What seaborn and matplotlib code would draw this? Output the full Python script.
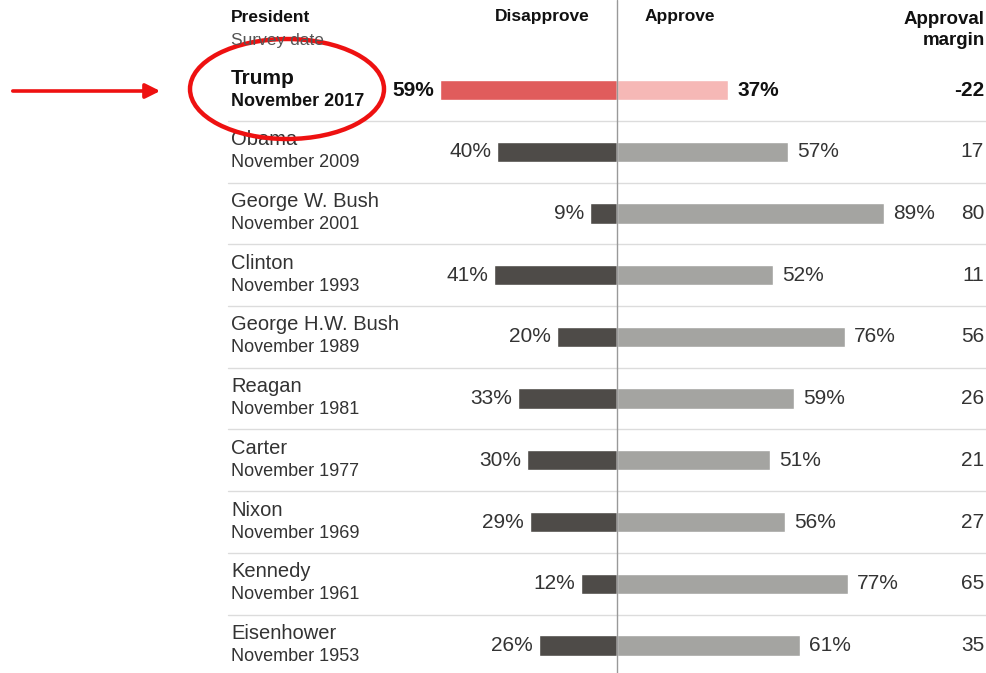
import matplotlib
matplotlib.use("Agg")
import matplotlib.pyplot as plt
from matplotlib.patches import Ellipse, FancyArrowPatch
import seaborn as sns

presidents = ["Trump", "Obama", "George W. Bush", "Clinton", "George H.W. Bush",
              "Reagan", "Carter", "Nixon", "Kennedy", "Eisenhower"]
survey_dates = ["November 2017", "November 2009", "November 2001", "November 1993",
                "November 1989", "November 1981", "November 1977", "November 1969",
                "November 1961", "November 1953"]
disapprove = [59, 40, 9, 41, 20, 33, 30, 29, 12, 26]
approve = [37, 57, 89, 52, 76, 59, 51, 56, 77, 61]
margin = [-22, 17, 80, 11, 56, 26, 21, 27, 65, 35]

sns.set_style("white")
plt.rcParams["font.family"] = ["Liberation Sans", "DejaVu Sans"]

W, H = 986, 673
fig = plt.figure(figsize=(W / 100, H / 100), dpi=100)
ax = fig.add_axes([0, 0, 1, 1])

# layout: zero line at pixel 617, 3 px per percent, rows ~61.7 px apart
X0, XS = 617, 3.0
Y0, YS = 90.1, 61.7
px = lambda x: (x - X0) / XS

dis_colors = ["#e05c5c"] + ["#4e4b48"] * 9
app_colors = ["#f6b8b6"] + ["#a4a4a1"] * 9

neg = [-v for v in disapprove]
sns.barplot(x=neg, y=presidents, hue=presidents, palette=dis_colors, orient="h",
            width=0.33, saturation=1, legend=False, ax=ax)
sns.barplot(x=approve, y=presidents, hue=presidents, palette=app_colors, orient="h",
            width=0.33, saturation=1, legend=False, ax=ax)

ax.set_xlim(px(0), px(W))
ax.set_ylim((H - Y0) / YS, -Y0 / YS)
ax.axis("off")

# separators and zero line
for i in range(len(presidents) - 1):
    ax.plot([px(228), px(W)], [i + 0.5, i + 0.5], color="#dcdcdc", lw=1, zorder=0)
ax.axvline(0, color="#999999", lw=1, zorder=3)

txt = "#333333"
for i, (p, d, dv, av, m) in enumerate(zip(presidents, survey_dates, disapprove, approve, margin)):
    bold = i == 0
    fw = "bold" if bold else "normal"
    col = "#111111" if bold else txt
    ax.text(px(231), i - 12 / YS, p, fontsize=15 if bold else 14.5, fontweight=fw,
            color=col, va="center", ha="left")
    ax.text(px(231), i + 11 / YS, d, fontsize=13 if bold else 13, fontweight=fw,
            color=col, va="center", ha="left")
    ax.text(-dv - 6 / XS, i, f"{dv}%", fontsize=15, fontweight=fw, color=col,
            va="center", ha="right")
    ax.text(av + 9 / XS, i, f"{av}%", fontsize=15, fontweight=fw, color=col,
            va="center", ha="left")
    ax.text(px(984), i, f"{m}", fontsize=15, fontweight=fw, color=col,
            va="center", ha="right")

# header
fy = lambda y: 1 - y / H
fig.text(231 / W, fy(17), "President", fontsize=12.5, fontweight="bold", color="#111111", va="center")
fig.text(231 / W, fy(40), "Survey date", fontsize=12.5, color="#555555", va="center")
fig.text(590 / W, fy(17), "Disapprove", fontsize=12.5, fontweight="bold", color="#111111",
         va="center", ha="right")
fig.text(645 / W, fy(17), "Approve", fontsize=12.5, fontweight="bold", color="#111111",
         va="center", ha="left")
fig.text(985 / W, fy(30), "Approval\nmargin", fontsize=13.5, fontweight="bold", color="#111111",
         va="center", ha="right", multialignment="right", linespacing=1.3)

# red highlight
ax.add_patch(Ellipse((px(287), (89 - Y0) / YS), 194 / XS, 100 / YS, fill=False,
                     edgecolor="#ee1111", lw=3.2, zorder=5))
fig.patches.append(FancyArrowPatch(
    (10 / W, fy(91)), (163 / W, fy(91)), transform=fig.transFigure,
    arrowstyle="-|>", mutation_scale=22, color="#ee1111", lw=2.6))

fig.savefig("out.png", dpi=100, facecolor="white")
